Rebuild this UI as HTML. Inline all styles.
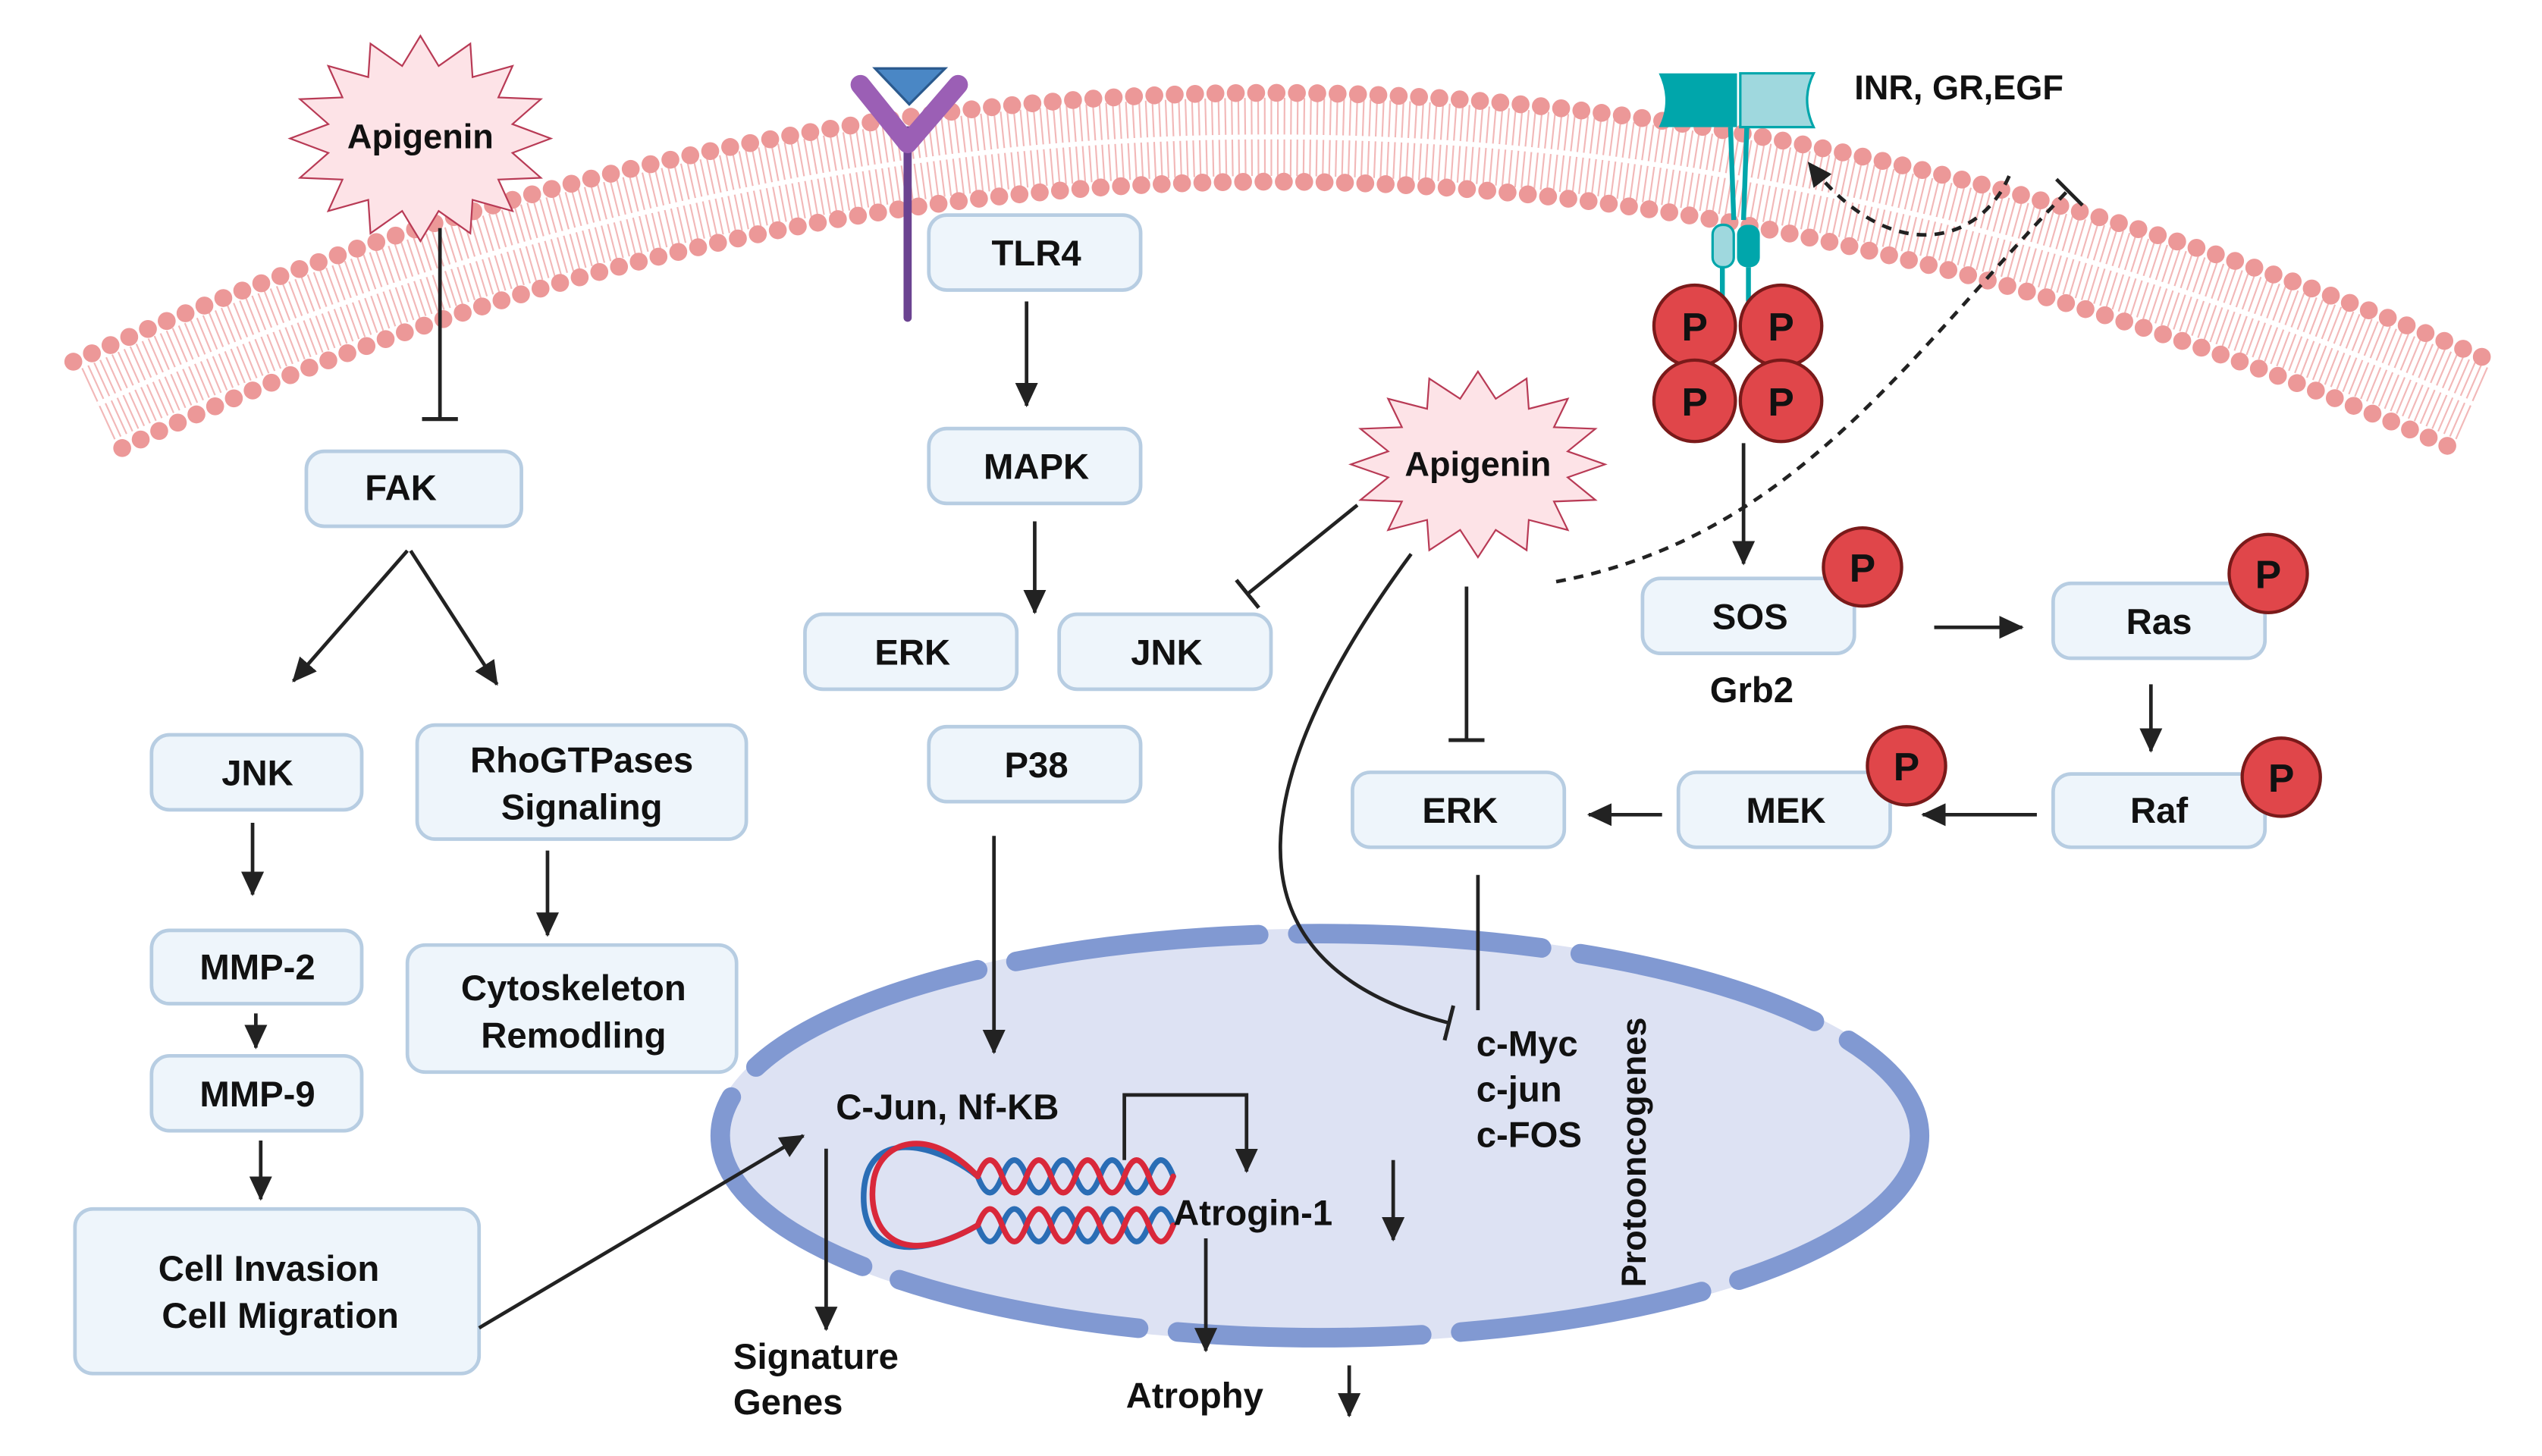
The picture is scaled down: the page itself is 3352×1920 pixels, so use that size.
<!DOCTYPE html>
<html><head><meta charset="utf-8"><style>
html,body{margin:0;padding:0;background:#fff;}
svg{display:block;}
text{font-family:"Liberation Sans",sans-serif;font-weight:bold;fill:#111;}
.box{fill:#eef5fb;stroke:#b7cde2;stroke-width:2.2;}
.ln{stroke:#222;stroke-width:2.2;fill:none;}
.pc{fill:#e0464a;stroke:#7a1a1a;stroke-width:2;}
</style></head><body>
<svg width="3352" height="1920" viewBox="0 0 1560 893.6" preserveAspectRatio="none" xmlns="http://www.w3.org/2000/svg">
<defs>
<marker id="ar" markerUnits="userSpaceOnUse" markerWidth="16" markerHeight="14" refX="14" refY="7" orient="auto"><path d="M0,0 L15,7 L0,14 z" fill="#222"/></marker>
<marker id="bar" markerUnits="userSpaceOnUse" markerWidth="4" markerHeight="22" refX="2" refY="11" orient="auto"><rect x="0" y="0" width="2.4" height="22" fill="#222"/></marker>
</defs>

<!-- membrane -->
<path d="M60,248 Q772,-80 1518,248" fill="none" stroke="#f2b8b8" stroke-width="48" stroke-dasharray="1 3"/>
<path d="M60,248 Q772,-80 1518,248" fill="none" stroke="#fff" stroke-width="3"/>
<path d="M45,222 Q772,-108 1530,222" fill="none" stroke="#ec9898" stroke-width="11" stroke-linecap="round" stroke-dasharray="0 12.5"/>
<path d="M75,275 Q772,-52 1505,275" fill="none" stroke="#ec9898" stroke-width="11" stroke-linecap="round" stroke-dasharray="0 12.5"/>

<!-- nucleus -->
<ellipse cx="810" cy="697" rx="372" ry="127" fill="#dde2f3"/>
<ellipse cx="810" cy="697" rx="368" ry="124" fill="none" stroke="#8199d2" stroke-width="12" stroke-linecap="round" stroke-dasharray="150 24"/>

<!-- TLR4 receptor -->
<line x1="557" y1="80" x2="557" y2="195" stroke="#6b4391" stroke-width="5" stroke-linecap="round"/>
<path d="M528,52 L557,88 L588,52" fill="none" stroke="#9b5fb5" stroke-width="12" stroke-linecap="round" stroke-linejoin="round"/>
<polygon points="537,42 580,42 558,64" fill="#4a87c5" stroke="#2b5a8e" stroke-width="1.5"/>

<!-- INR receptor -->
<path d="M1018,45 h48 v33 h-48 q8,-16 0,-33z" fill="#00a6ab"/>
<path d="M1068,45 h45 q-8,16 0,33 h-45z" fill="#9fd8de" stroke="#00a6ab" stroke-width="1.5"/>
<path d="M1062,78 L1064,135 M1072,78 L1070,135" stroke="#00a6ab" stroke-width="3" fill="none"/>
<rect x="1051" y="138" width="13" height="26" rx="6" fill="#9fd8de" stroke="#00a6ab" stroke-width="1.5"/>
<rect x="1066" y="138" width="14" height="26" rx="6" fill="#00a6ab"/>
<path d="M1057,164 V185 M1073,164 V185" stroke="#00a6ab" stroke-width="3"/>
<circle class="pc" cx="1040" cy="200" r="25"/><circle class="pc" cx="1093" cy="200" r="25"/>
<circle class="pc" cx="1040" cy="246" r="25"/><circle class="pc" cx="1093" cy="246" r="25"/>
<g font-size="24" text-anchor="middle">
<text x="1040" y="209">P</text><text x="1093" y="209">P</text><text x="1040" y="255">P</text><text x="1093" y="255">P</text></g>
<text x="1138" y="61" font-size="21">INR, GR,EGF</text>

<!-- stars -->
<g transform="translate(258,85) scale(80,63)"><polygon vector-effect="non-scaling-stroke" fill="#fde3e7" stroke="#b83a55" stroke-width="2.2" points="1,0 .706,.14 .924,.383 .598,.4 .707,.707 .4,.598 .383,.924 .14,.706 0,1 -.14,.706 -.383,.924 -.4,.598 -.707,.707 -.598,.4 -.924,.383 -.706,.14 -1,0 -.706,-.14 -.924,-.383 -.598,-.4 -.707,-.707 -.4,-.598 -.383,-.924 -.14,-.706 0,-1 .14,-.706 .383,-.924 .4,-.598 .707,-.707 .598,-.4 .924,-.383 .706,-.14"/></g>
<text x="258" y="91" font-size="21" text-anchor="middle">Apigenin</text>
<g transform="translate(907,285) scale(78,57)"><polygon vector-effect="non-scaling-stroke" fill="#fde3e7" stroke="#b83a55" stroke-width="2.2" points="1,0 .706,.14 .924,.383 .598,.4 .707,.707 .4,.598 .383,.924 .14,.706 0,1 -.14,.706 -.383,.924 -.4,.598 -.707,.707 -.598,.4 -.924,.383 -.706,.14 -1,0 -.706,-.14 -.924,-.383 -.598,-.4 -.707,-.707 -.4,-.598 -.383,-.924 -.14,-.706 0,-1 .14,-.706 .383,-.924 .4,-.598 .707,-.707 .598,-.4 .924,-.383 .706,-.14"/></g>
<text x="907" y="292" font-size="21" text-anchor="middle">Apigenin</text>

<!-- boxes -->
<g font-size="22" text-anchor="middle">
<rect class="box" x="188" y="277" width="132" height="46" rx="11"/><text x="246" y="307">FAK</text>
<rect class="box" x="570" y="132" width="130" height="46" rx="11"/><text x="636" y="163">TLR4</text>
<rect class="box" x="570" y="263" width="130" height="46" rx="11"/><text x="636" y="294">MAPK</text>
<rect class="box" x="494" y="377" width="130" height="46" rx="11"/><text x="560" y="408">ERK</text>
<rect class="box" x="650" y="377" width="130" height="46" rx="11"/><text x="716" y="408">JNK</text>
<rect class="box" x="570" y="446" width="130" height="46" rx="11"/><text x="636" y="477">P38</text>
<rect class="box" x="93" y="451" width="129" height="46" rx="11"/><text x="158" y="482">JNK</text>
<rect class="box" x="256" y="445" width="202" height="70" rx="11"/><text x="357" y="474">RhoGTPases</text><text x="357" y="503">Signaling</text>
<rect class="box" x="93" y="571" width="129" height="45" rx="11"/><text x="158" y="601">MMP-2</text>
<rect class="box" x="93" y="648" width="129" height="46" rx="11"/><text x="158" y="679">MMP-9</text>
<rect class="box" x="250" y="580" width="202" height="78" rx="11"/><text x="352" y="614">Cytoskeleton</text><text x="352" y="643">Remodling</text>
<rect class="box" x="46" y="742" width="248" height="101" rx="11"/><text x="165" y="786">Cell  Invasion</text><text x="172" y="815">Cell Migration</text>
<rect class="box" x="1008" y="355" width="130" height="46" rx="11"/><text x="1074" y="386">SOS</text>
<rect class="box" x="1260" y="358" width="130" height="46" rx="11"/><text x="1325" y="389">Ras</text>
<rect class="box" x="1260" y="475" width="130" height="45" rx="11"/><text x="1325" y="505">Raf</text>
<rect class="box" x="1030" y="474" width="130" height="46" rx="11"/><text x="1096" y="505">MEK</text>
<rect class="box" x="830" y="474" width="130" height="46" rx="11"/><text x="896" y="505">ERK</text>
<text x="1075" y="431">Grb2</text>
</g>
<circle class="pc" cx="1143" cy="348" r="24"/><circle class="pc" cx="1392" cy="352" r="24"/>
<circle class="pc" cx="1400" cy="477" r="24"/><circle class="pc" cx="1170" cy="470" r="24"/>
<g font-size="24" text-anchor="middle"><text x="1143" y="357">P</text><text x="1392" y="361">P</text><text x="1400" y="486">P</text><text x="1170" y="479">P</text></g>

<!-- connectors -->
<line class="ln" x1="270" y1="140" x2="270" y2="258" marker-end="url(#bar)"/>
<line class="ln" x1="250" y1="338" x2="180" y2="418" marker-end="url(#ar)"/>
<line class="ln" x1="252" y1="338" x2="305" y2="420" marker-end="url(#ar)"/>
<line class="ln" x1="155" y1="505" x2="155" y2="549" marker-end="url(#ar)"/>
<line class="ln" x1="157" y1="622" x2="157" y2="643" marker-end="url(#ar)"/>
<line class="ln" x1="160" y1="700" x2="160" y2="736" marker-end="url(#ar)"/>
<line class="ln" x1="336" y1="522" x2="336" y2="574" marker-end="url(#ar)"/>
<line class="ln" x1="630" y1="185" x2="630" y2="249" marker-end="url(#ar)"/>
<line class="ln" x1="635" y1="320" x2="635" y2="376" marker-end="url(#ar)"/>
<line class="ln" x1="610" y1="513" x2="610" y2="646" marker-end="url(#ar)"/>
<line class="ln" x1="294" y1="815" x2="493" y2="697" stroke="#555" marker-end="url(#ar)"/>
<line class="ln" x1="833" y1="310" x2="765" y2="365" marker-end="url(#bar)"/>
<path class="ln" d="M866,340 C770,470 740,590 890,628" stroke="#444" marker-end="url(#bar)"/>
<line class="ln" x1="900" y1="360" x2="900" y2="455" marker-end="url(#bar)"/>
<line class="ln" x1="907" y1="537" x2="907" y2="620"/>
<line class="ln" x1="1070" y1="272" x2="1070" y2="346" marker-end="url(#ar)"/>
<line class="ln" x1="1187" y1="385" x2="1241" y2="385" stroke-width="3" marker-end="url(#ar)"/>
<line class="ln" x1="1320" y1="420" x2="1320" y2="461" marker-end="url(#ar)"/>
<line class="ln" x1="1250" y1="500" x2="1180" y2="500" stroke-width="3" marker-end="url(#ar)"/>
<line class="ln" x1="1020" y1="500" x2="975" y2="500" stroke-width="3" marker-end="url(#ar)"/>
<path class="ln" d="M955,357 C1100,330 1170,220 1268,118" stroke-dasharray="6 5"/>
<line x1="1262" y1="110" x2="1278" y2="126" stroke="#222" stroke-width="2.2"/>
<path class="ln" d="M1233,108 C1215,150 1160,165 1110,100" stroke-dasharray="6 5" marker-end="url(#ar)"/>
<path class="ln" d="M690,712 V672 H765 V719" marker-end="url(#ar)"/>
<line class="ln" x1="507" y1="705" x2="507" y2="816" marker-end="url(#ar)"/>
<line class="ln" x1="740" y1="760" x2="740" y2="829" marker-end="url(#ar)"/>
<line class="ln" x1="855" y1="712" x2="855" y2="761" marker-end="url(#ar)"/>
<line class="ln" x1="828" y1="838" x2="828" y2="869" marker-end="url(#ar)"/>

<!-- DNA -->
<g fill="none" stroke-width="3.5" stroke-linecap="round">
<path d="M600,722 q7.5,20 15,0 q7.5,-20 15,0 q7.5,20 15,0 q7.5,-20 15,0 q7.5,20 15,0 q7.5,-20 15,0 q7.5,20 15,0 q7.5,-20 15,0" stroke="#2a6db5"/>
<path d="M600,752 q7.5,20 15,0 q7.5,-20 15,0 q7.5,20 15,0 q7.5,-20 15,0 q7.5,20 15,0 q7.5,-20 15,0 q7.5,20 15,0 q7.5,-20 15,0" stroke="#2a6db5"/>
<path d="M600,722 C575,702 530,690 530,735 C530,772 565,772 600,752" stroke="#2a6db5"/>
<path d="M600,722 q7.5,-20 15,0 q7.5,20 15,0 q7.5,-20 15,0 q7.5,20 15,0 q7.5,-20 15,0 q7.5,20 15,0 q7.5,-20 15,0 q7.5,20 15,0" stroke="#d9283a"/>
<path d="M600,752 q7.5,-20 15,0 q7.5,20 15,0 q7.5,-20 15,0 q7.5,20 15,0 q7.5,-20 15,0 q7.5,20 15,0 q7.5,-20 15,0 q7.5,20 15,0" stroke="#d9283a"/>
<path d="M600,722 C570,690 540,700 536,725 C532,752 548,782 600,752" stroke="#d9283a"/>
</g>

<!-- nucleus texts -->
<g font-size="22">
<text x="513" y="687">C-Jun, Nf-KB</text>
<text x="720" y="752">Atrogin-1</text>
<text x="906" y="648">c-Myc</text>
<text x="906" y="676">c-jun</text>
<text x="906" y="704">c-FOS</text>
<text x="450" y="840">Signature</text>
<text x="450" y="868">Genes</text>
<text x="691" y="864">Atrophy</text>
<text transform="translate(1010,790) rotate(-90)" font-size="21">Protooncogenes</text>
</g>
</svg>
</body></html>
